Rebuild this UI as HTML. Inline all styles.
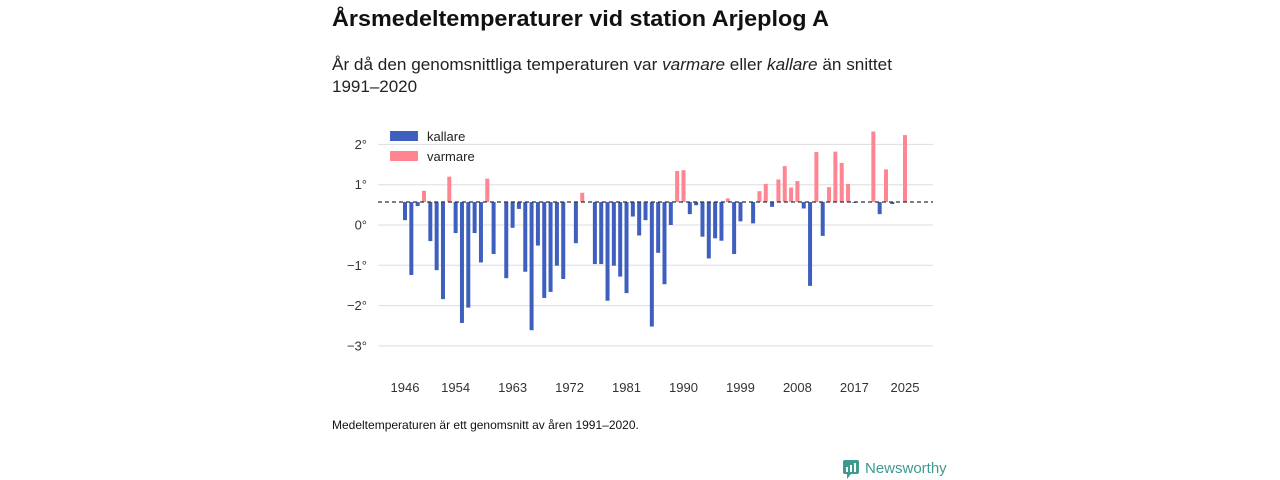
<!DOCTYPE html>
<html><head><meta charset="utf-8">
<style>
html,body{margin:0;padding:0;background:#fff;width:1280px;height:480px;overflow:hidden;font-family:"Liberation Sans",sans-serif;}
svg{display:block}
</style></head>
<body>
<svg id="chart" width="1280" height="480">
  <text x="332" y="26" font-size="22" font-weight="bold" fill="#111" textLength="497" lengthAdjust="spacingAndGlyphs">Årsmedeltemperaturer vid station Arjeplog A</text>
  <text x="332" y="70" font-size="17" fill="#222" textLength="560" lengthAdjust="spacingAndGlyphs">År då den genomsnittliga temperaturen var <tspan font-style="italic">varmare</tspan> eller <tspan font-style="italic">kallare</tspan> än snittet</text>
  <text x="332" y="92" font-size="17" fill="#222">1991–2020</text>
  <g id="grid"></g>
  <g id="bars"></g>
  <line x1="378" x2="933" id="avgline" stroke="#333" stroke-width="1.3" stroke-dasharray="4,3"/>
  <g id="xaxis"></g>
  <g>
    <rect x="390" y="131" width="28" height="10" fill="#3f5fbf"/>
    <text x="427" y="141" font-size="13" fill="#222">kallare</text>
    <rect x="390" y="151" width="28" height="10" fill="#ff8592"/>
    <text x="427" y="161" font-size="13" fill="#222">varmare</text>
  </g>
  <text x="332" y="429" font-size="12" fill="#111">Medeltemperaturen är ett genomsnitt av åren 1991–2020.</text>
  <g>
    <rect x="843" y="460" width="16" height="14" rx="2" fill="#3e9a8e"/>
    <path d="M847 474 L851 474 L847 479 Z" fill="#3e9a8e"/>
    <rect x="846" y="467" width="2" height="5" fill="#fff"/><rect x="850" y="465" width="2" height="7" fill="#fff"/><rect x="854" y="463" width="2" height="9" fill="#fff"/>
    <text x="865" y="473" font-size="15" fill="#3e9a8e">Newsworthy</text>
  </g>
</svg>
<script>
const years = [];
for (let y = 1946; y <= 2025; y++) years.push(y);
const temps = [0.12,-1.24,0.47,0.85,-0.40,-1.12,-1.84,1.20,-0.20,-2.43,
-2.05,-0.20,-0.93,1.15,-0.72,0.57,-1.32,-0.07,0.40,-1.16,
-2.61,-0.51,-1.81,-1.66,-1.01,-1.34,0.57,-0.45,0.80,0.57,
-0.97,-0.97,-1.88,-1.01,-1.28,-1.69,0.21,-0.26,0.12,-2.52,
-0.69,-1.47,0.00,1.34,1.36,0.27,0.49,-0.29,-0.83,-0.33,
-0.39,0.66,-0.72,0.09,0.57,0.04,0.84,1.02,0.45,1.13,
1.46,0.93,1.09,0.41,-1.51,1.81,-0.27,0.94,1.82,1.54,
1.02,0.55,0.57,0.57,2.32,0.27,1.38,0.52,0.57,2.23];
const average = 0.57;
const yTicks = [2,1,0,-1,-2,-3];
const yTickLabels = ["2°","1°","0°","−1°","−2°","−3°"];
const xTicks = [1946,1954,1963,1972,1981,1990,1999,2008,2017,2025];

const NS = "http://www.w3.org/2000/svg";
const xScale = yr => 405 + (yr - 1946) * (500 / 79);
const yScale = v => 225 - v * 40.3;
function mk(tag, attrs, parent) {
  const e = document.createElementNS(NS, tag);
  for (const k in attrs) e.setAttribute(k, attrs[k]);
  parent.appendChild(e);
  return e;
}
const grid = document.getElementById('grid');
yTicks.forEach((t, i) => {
  const gl = mk('line', {x1: 378, x2: 933, y1: yScale(t), y2: yScale(t), stroke: '#ddd', 'stroke-width': 1}, grid);
  
  
  const tl = mk('text', {x: 367, y: yScale(t) + 4.5, 'font-size': 13, fill: '#333', 'text-anchor': 'end'}, grid);
  tl.textContent = yTickLabels[i];
  
  
});
const bars = document.getElementById('bars');
years.forEach((yr, i) => {
  const v = temps[i];
  const y0 = yScale(average), y1 = yScale(v);
  const r = mk('rect', {x: xScale(yr) - 2, y: Math.min(y0, y1), width: 4, height: Math.abs(y1 - y0), fill: v >= average ? '#ff8592' : '#3f5fbf'}, bars);
  
  
});
const al = document.getElementById('avgline');
al.setAttribute('y1', yScale(average));
al.setAttribute('y2', yScale(average));
const xa = document.getElementById('xaxis');
xTicks.forEach(t => {
  const tl = mk('text', {x: xScale(t), y: 392, 'font-size': 13, fill: '#333', 'text-anchor': 'middle'}, xa);
  tl.textContent = t;
  
  
});
</script>
</body></html>
